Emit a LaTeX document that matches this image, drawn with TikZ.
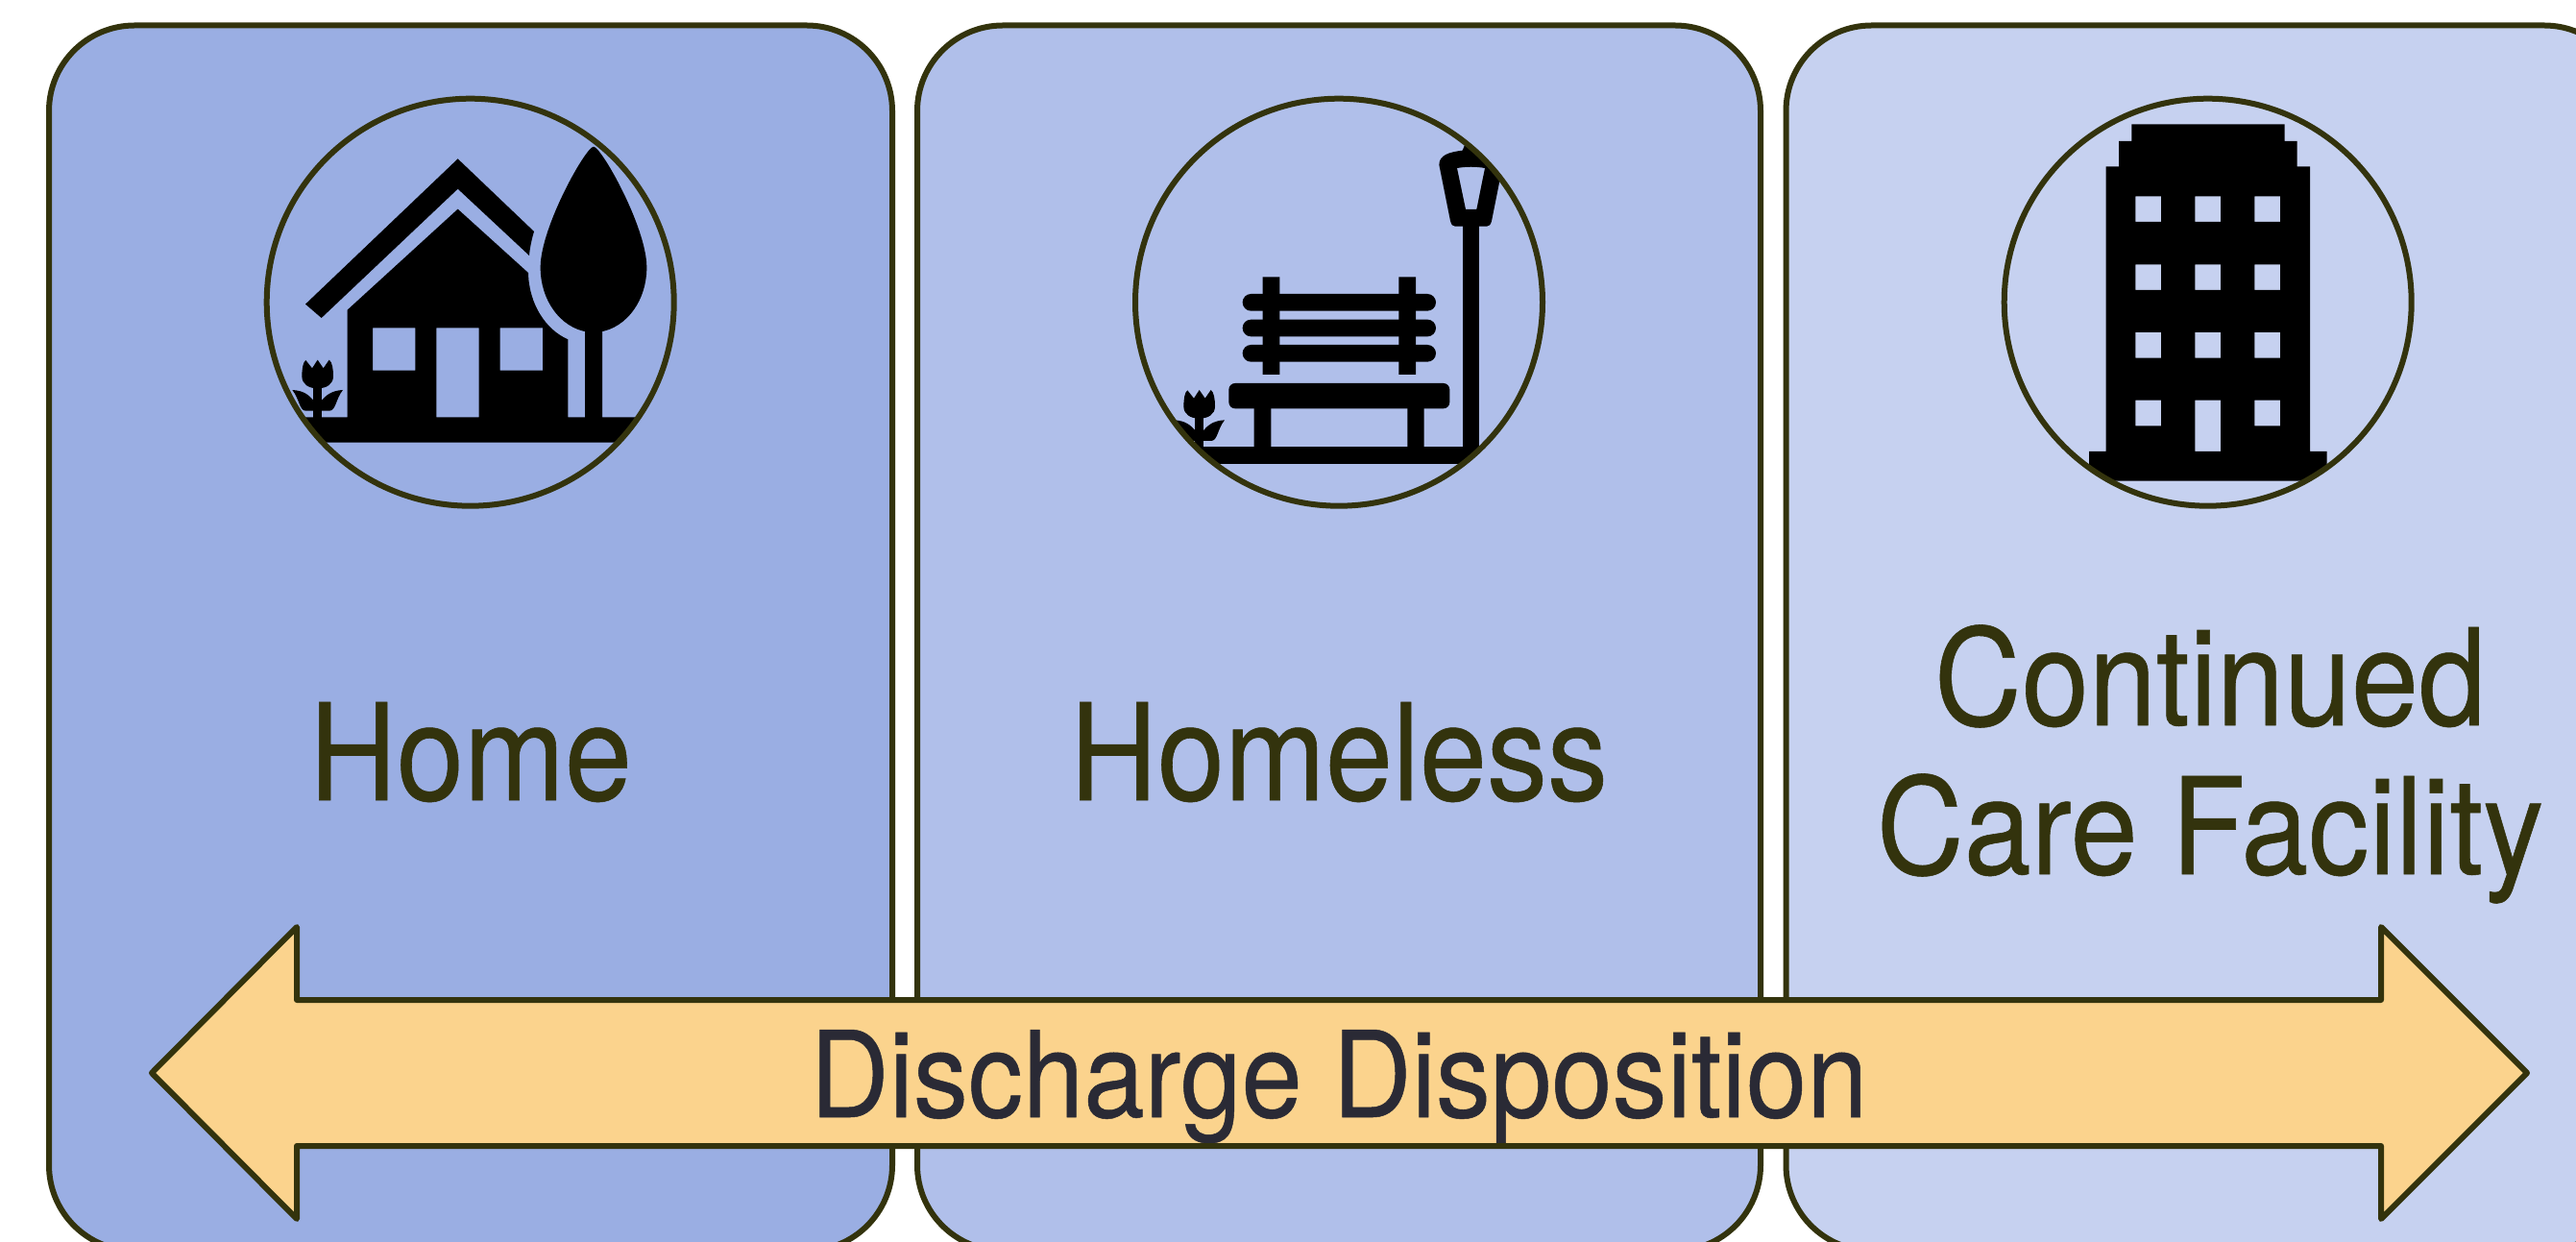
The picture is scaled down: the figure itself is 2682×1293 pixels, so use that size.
\documentclass[tikz,border=0pt]{standalone}
\usepackage{fontspec}
\setmainfont{TeX Gyre Heros}
\newfontfamily\labelfam[FakeStretch=0.90,FakeBold=0.4]{TeX Gyre Heros}
\newfontfamily\arrowfam[FakeStretch=0.913,FakeBold=0.4]{TeX Gyre Heros}
\definecolor{inkline}{HTML}{33330D}
\definecolor{arrowink}{HTML}{2A2A35}
\definecolor{panelA}{HTML}{9AAEE3}
\definecolor{panelB}{HTML}{B0BFEA}
\definecolor{panelC}{HTML}{C6D1F0}
\definecolor{arrowfill}{HTML}{FBD38D}
\newcommand{\flowerglyph}{%
    \fill[black] (199,930) rectangle (225,1040);
    \fill[black] (175,855) -- (195,880) -- (212,854) -- (230,880) -- (248,854)
      .. controls (258,860) and (261,885) .. (261,905)
      .. controls (261,930) and (240,943) .. (212,943)
      .. controls (184,943) and (163,930) .. (163,905)
      .. controls (163,885) and (166,860) .. (175,855) -- cycle;
    \fill[black] (133,948) .. controls (170,950) and (185,965) .. (199,980)
      -- (199,1013) -- (175,1013) .. controls (155,1013) and (155,975) .. (133,948) -- cycle;
    \fill[black] (291,948) .. controls (254,950) and (239,965) .. (225,980)
      -- (225,1013) -- (249,1013) .. controls (269,1013) and (269,975) .. (291,948) -- cycle;
}
\newcommand{\arrowoutline}{(158,1117) -- (309,965) -- (309,1041) -- (2479,1041) -- (2479,965) -- (2631,1117)
  -- (2479,1269) -- (2479,1193) -- (309,1193) -- (309,1269) -- cycle}
\tikzset{
  panelbox/.style={draw=inkline,line width=3pt,rounded corners=44.5pt},
  iconring/.style={draw=inkline,line width=3pt},
  labeltext/.style={text=inkline,inner sep=0pt,anchor=base,align=center,font=\labelfam\fontsize{70}{77.5}\selectfont},
  arrowtext/.style={text=arrowink,inner sep=0pt,anchor=base,font=\arrowfam\fontsize{62.4}{70}\selectfont},
  bigarrow/.style={draw=inkline,line width=3pt,line join=round},
  zoomed/.style={xscale=1/3,yscale=1/3}
}
\begin{document}
\begin{tikzpicture}[x=0.5pt,y=-0.5pt]
\useasboundingbox (0,0) rectangle (2682,1293);
\fill[white] (0,0) rectangle (2682,1293);
\clip (0,0) rectangle (2682,1293);
% panels
\path[panelbox,fill=panelC] (1859.5,26.5) rectangle (2738,1302);
\path[panelbox,fill=panelB] (955,26.5) rectangle (1833,1302);
\path[panelbox,fill=panelA] (51,26.5) rectangle (929,1302);
% house icon
\begin{scope}
\clip (489.7,314.7) circle[radius=212];
\begin{scope}[shift={(260,90)},zoomed]
\fill[black] (650,226) -- (888,453) .. controls (880,480) and (875,505) .. (873,528)
  -- (650,320) -- (224,723) -- (174,680) -- cycle;
\fill[black,even odd rule] (305,1033) -- (305,698) -- (650,383) -- (870,582)
  .. controls (872,680) and (925,760) .. (994,790) -- (994,1033) -- (1047,1033) -- (1047,760)
  -- (1101,760) -- (1101,1033) -- (1300,1033) -- (1300,1112) -- (80,1112) -- (80,1033) -- cycle
  (384,754) rectangle (517,887) (583,754) rectangle (716,1033) (782,754) rectangle (915,887);
\fill[black] (1074,188) .. controls (1050,188) and (908,440) .. (908,565)
  .. controls (908,680) and (985,768) .. (1074,768)
  .. controls (1163,768) and (1240,680) .. (1240,565)
  .. controls (1240,440) and (1098,188) .. (1074,188) -- cycle;
\flowerglyph
\end{scope}
\end{scope}
\node[iconring,circle,minimum size=212pt,inner sep=0pt] (ringA) at (489.7,314.7) {};
% bench icon
\begin{scope}
\clip (1394,314.7) circle[radius=212];
\begin{scope}[shift={(1170,90)},zoomed]
\fill[black] (434,595) rectangle (487,900) (859,595) rectangle (912,900);
\fill[black,rounded corners=4.4pt] (371,648) rectangle (975,701);
\fill[black,rounded corners=4.4pt] (371,728) rectangle (975,781);
\fill[black,rounded corners=4.4pt] (371,807) rectangle (975,860);
\fill[black,rounded corners=3.3pt] (328,927) rectangle (1018,1006);
\fill[black] (407,1000) rectangle (460,1130) (886,1000) rectangle (938,1130);
\fill[black] (80,1126) rectangle (1300,1179);
\fill[black] (1058,430) rectangle (1111,1130);
\fill[black,even odd rule] (1084,175) -- (1065,183) -- (1058,200)
  .. controls (1015,205) and (985,215) .. (985,245) -- (1020,420)
  .. controls (1023,432) and (1028,437) .. (1035,437) -- (1134,437)
  .. controls (1141,437) and (1146,432) .. (1149,420) -- (1184,245)
  .. controls (1184,215) and (1154,205) .. (1111,200) -- (1104,183) -- cycle
  (1041,255) .. controls (1070,250) and (1100,250) .. (1128,255) -- (1102,384) -- (1068,384) -- cycle;
\begin{scope}[shift={(24,94)}]
\flowerglyph
\end{scope}
\end{scope}
\end{scope}
\node[iconring,circle,minimum size=212pt,inner sep=0pt] (ringB) at (1394,314.7) {};
% building icon
\begin{scope}
\clip (2298.7,314.7) circle[radius=212];
\begin{scope}[shift={(2070,90)},zoomed]
\fill[black,even odd rule] (448,118) -- (926,118) -- (926,171) -- (965,171) -- (965,250) -- (1005,250)
  -- (1005,1140) -- (1058,1140) -- (1058,1232) -- (315,1232) -- (315,1140) -- (368,1140)
  -- (368,250) -- (408,250) -- (408,171) -- (448,171) -- cycle
  (460,343) rectangle (540,423) (646,343) rectangle (726,423) (832,343) rectangle (912,423)
  (460,556) rectangle (540,636) (646,556) rectangle (726,636) (832,556) rectangle (912,636)
  (460,768) rectangle (540,848) (646,768) rectangle (726,848) (832,768) rectangle (912,848)
  (460,980) rectangle (540,1060) (646,980) rectangle (726,1140) (832,980) rectangle (912,1060);
\end{scope}
\end{scope}
\node[iconring,circle,minimum size=212pt,inner sep=0pt] (ringC) at (2298.7,314.7) {};
% labels
\node[labeltext] (lblHome) at (490,833) {Home};
\node[labeltext] (lblHomeless) at (1394,833) {Homeless};
\node[labeltext] (lblCare) at (2301,910) {Continued\\Care Facility};
% arrow: fill, text, then outline over the descenders
\fill[arrowfill] \arrowoutline;
\begin{scope}
\clip (309,1041) rectangle (2479,1190);
\node[arrowtext] (lblArrow) at (1394,1163) {Discharge Disposition};
\end{scope}
\path[bigarrow] \arrowoutline;
\end{tikzpicture}
\end{document}
